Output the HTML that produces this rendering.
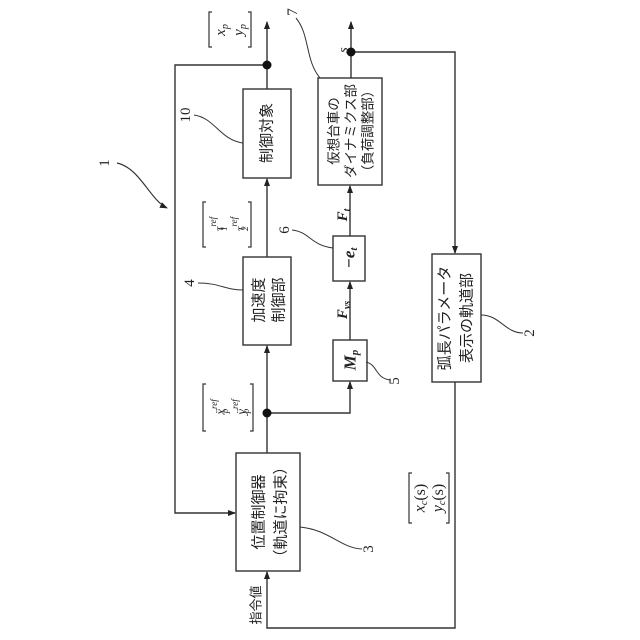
<!DOCTYPE html>
<html><head><meta charset="utf-8"><style>body{margin:0;background:#fff}svg{display:block}text{font-family:"Liberation Serif","Noto Sans CJK JP",serif;fill:#222}.j{font-family:"Liberation Sans","Noto Sans CJK JP",sans-serif}</style></head><body>
<svg width="640" height="640" viewBox="0 0 640 640" xmlns="http://www.w3.org/2000/svg">
<defs><marker id="a" markerWidth="8" markerHeight="8" refX="7" refY="4" orient="auto" markerUnits="userSpaceOnUse"><path d="M0,1 L8,4 L0,7 Z" fill="#222"/></marker></defs>
<g stroke="#333" stroke-width="1.4" fill="none">
<!-- boxes -->
<rect x="243" y="89" width="48" height="89"/>
<rect x="243" y="257" width="48" height="88"/>
<rect x="236" y="453" width="64" height="118"/>
<rect x="318" y="78" width="64" height="107"/>
<rect x="333" y="236" width="32" height="45"/>
<rect x="333" y="340" width="34" height="41"/>
<rect x="432" y="254" width="49" height="128"/>
<!-- lines -->
<line x1="267" y1="89" x2="267" y2="22" marker-end="url(#a)"/>
<polyline points="267,65 175,65 175,513 235,513" marker-end="url(#a)"/>
<line x1="267" y1="257" x2="267" y2="179" marker-end="url(#a)"/>
<line x1="267" y1="453" x2="267" y2="346" marker-end="url(#a)"/>
<polyline points="267,413 350,413 350,382" marker-end="url(#a)"/>
<line x1="350" y1="340" x2="350" y2="282" marker-end="url(#a)"/>
<line x1="350" y1="236" x2="350" y2="186" marker-end="url(#a)"/>
<line x1="351" y1="78" x2="351" y2="22" marker-end="url(#a)"/>
<polyline points="351,52 455,52 455,253" marker-end="url(#a)"/>
<polyline points="455,382 455,628 267,628 267,572" marker-end="url(#a)"/>
<!-- leaders -->
<path d="M243,143 C220,140 215,118 194,115" stroke-width="1"/>
<path d="M243,290 C225,290 220,283 198,283" stroke-width="1"/>
<path d="M333,248 C310,245 310,232 292,230" stroke-width="1"/>
<path d="M320,78 C305,60 310,35 296,18" stroke-width="1"/>
<path d="M366,362 C378,365 375,378 390,380" stroke-width="1"/>
<path d="M300,527 C330,530 340,548 362,549" stroke-width="1"/>
<path d="M481,315 C500,315 505,333 523,333" stroke-width="1"/>
<path d="M117,163 C140,168 150,200 167,208" stroke-width="1.2" marker-end="url(#a)"/>
<!-- brackets -->
<path d="M212,12 h-3 v35 h3 M248,12 h3 v35 h-3" stroke-width="1.2"/>
<path d="M206,202 h-3 v45 h3 M248,202 h3 v45 h-3" stroke-width="1.2"/>
<path d="M206,384 h-3 v47 h3 M250,384 h3 v47 h-3" stroke-width="1.2"/>
<path d="M412,473 h-3 v50 h3 M446,473 h3 v50 h-3" stroke-width="1.2"/>
</g>
<g fill="#111"><circle cx="267" cy="65" r="4.5"/><circle cx="351" cy="52" r="4.5"/><circle cx="267" cy="413" r="4.5"/></g>
<g text-anchor="middle" dominant-baseline="central">
<text class="j" font-size="15" transform="translate(267,133) rotate(-90)">制御対象</text>
<text class="j" font-size="15" transform="translate(259,300) rotate(-90)">加速度</text>
<text class="j" font-size="15" transform="translate(279,300) rotate(-90)">制御部</text>
<text class="j" font-size="15" transform="translate(259,512) rotate(-90)">位置制御器</text>
<text class="j" font-size="15" transform="translate(281,512) rotate(-90)">（軌道に拘束）</text>
<text class="j" font-size="13.5" transform="translate(334,131) rotate(-90)">仮想台車の</text>
<text class="j" font-size="13.5" transform="translate(351,131) rotate(-90)">ダイナミクス部</text>
<text class="j" font-size="13.5" transform="translate(368,131) rotate(-90)">（負荷調整部）</text>
<text class="j" font-size="15" transform="translate(445,318) rotate(-90)">弧長パラメータ</text>
<text class="j" font-size="15" transform="translate(467,318) rotate(-90)">表示の軌道部</text>
<text class="j" font-size="13" transform="translate(256,605) rotate(-90)">指令値</text>
<text font-size="17" font-weight="bold" font-style="italic" transform="translate(350,360) rotate(-90)">M<tspan font-size="11" dy="5">p</tspan></text>
<text font-size="17" font-weight="bold" font-style="italic" transform="translate(349,258) rotate(-90)">−e<tspan font-size="11" dy="5">t</tspan></text>
<text font-size="15" font-weight="bold" font-style="italic" transform="translate(343,310) rotate(-90)">F<tspan font-size="10" dy="4">vs</tspan></text>
<text font-size="15" font-weight="bold" font-style="italic" transform="translate(343,215) rotate(-90)">F<tspan font-size="10" dy="4">t</tspan></text>
<text font-size="14" font-style="italic" transform="translate(344,50) rotate(-90)">s</text>
<text font-size="15" font-style="italic" transform="translate(221,30) rotate(-90)">x<tspan font-size="10" dy="4">p</tspan></text>
<text font-size="15" font-style="italic" transform="translate(239,30) rotate(-90)">y<tspan font-size="10" dy="4">p</tspan></text>
<text font-size="13" font-style="italic" transform="translate(219,224) rotate(-90)">τ<tspan font-size="9" dy="-6">ref</tspan><tspan font-size="9" dx="-14" dy="11">1</tspan></text>
<text font-size="13" font-style="italic" transform="translate(240,224) rotate(-90)">τ<tspan font-size="9" dy="-6">ref</tspan><tspan font-size="9" dx="-14" dy="11">2</tspan></text>
<text font-size="13" font-style="italic" transform="translate(220,407) rotate(-90)">ẍ<tspan font-size="9" dy="-6">ref</tspan><tspan font-size="9" dx="-14" dy="11">p</tspan></text>
<text font-size="13" font-style="italic" transform="translate(241,407) rotate(-90)">ÿ<tspan font-size="9" dy="-6">ref</tspan><tspan font-size="9" dx="-14" dy="11">p</tspan></text>
<text font-size="16" font-style="italic" transform="translate(420,498) rotate(-90)">x<tspan font-size="10" dy="4">c</tspan><tspan dy="-4" font-style="normal">(s)</tspan></text>
<text font-size="16" font-style="italic" transform="translate(438,498) rotate(-90)">y<tspan font-size="10" dy="4">c</tspan><tspan dy="-4" font-style="normal">(s)</tspan></text>
<text font-size="15" transform="translate(105,163) rotate(-90)">1</text>
<text font-size="15" transform="translate(186,115) rotate(-90)">10</text>
<text font-size="15" transform="translate(190,283) rotate(-90)">4</text>
<text font-size="15" transform="translate(285,230) rotate(-90)">6</text>
<text font-size="15" transform="translate(293,12) rotate(-90)">7</text>
<text font-size="15" transform="translate(395,381) rotate(-90)">5</text>
<text font-size="15" transform="translate(369,549) rotate(-90)">3</text>
<text font-size="15" transform="translate(530,333) rotate(-90)">2</text>
</g>
</svg>
</body></html>
